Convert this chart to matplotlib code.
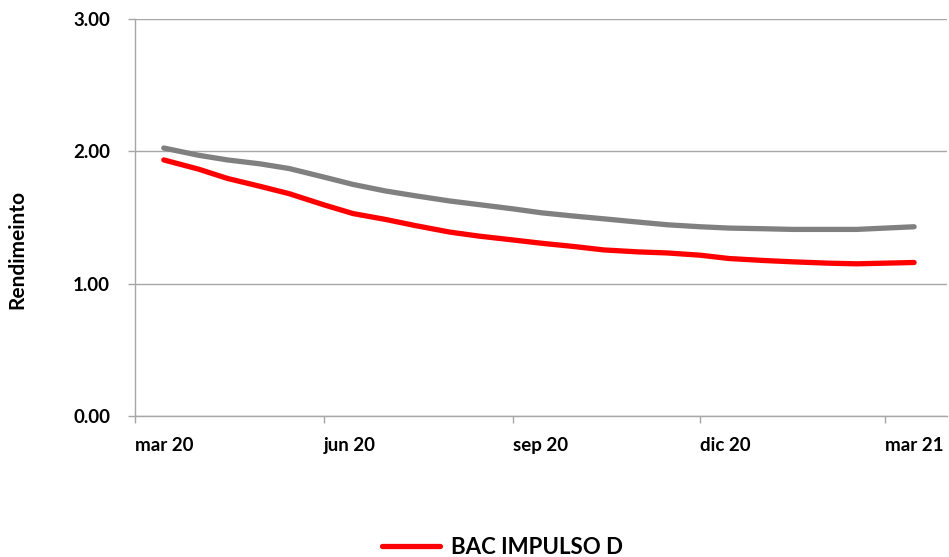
import datetime as dt
import matplotlib
matplotlib.use("Agg")
import matplotlib.pyplot as plt
import matplotlib.dates as mdates

# fechas quincenales de la serie
fechas = ["2020-03-15", "2020-04-01", "2020-04-15", "2020-05-01", "2020-05-15",
          "2020-06-01", "2020-06-15", "2020-07-01", "2020-07-15", "2020-08-01",
          "2020-08-15", "2020-09-01", "2020-09-15", "2020-10-01", "2020-10-15",
          "2020-11-01", "2020-11-15", "2020-12-01", "2020-12-15", "2021-01-01",
          "2021-01-15", "2021-02-01", "2021-02-15", "2021-03-01", "2021-03-15"]

bac_impulso_d = [1.935, 1.865, 1.795, 1.735, 1.68, 1.595, 1.53, 1.485, 1.44, 1.39,
                 1.36, 1.33, 1.305, 1.28, 1.255, 1.24, 1.232, 1.215, 1.19, 1.175,
                 1.165, 1.155, 1.15, 1.155, 1.16]

referencia = [2.025, 1.97, 1.935, 1.905, 1.87, 1.805, 1.75, 1.70, 1.665, 1.625,
              1.598, 1.565, 1.535, 1.51, 1.49, 1.465, 1.445, 1.43, 1.42, 1.415,
              1.41, 1.41, 1.41, 1.42, 1.43]

ticks_x = ["2020-03-01", "2020-06-01", "2020-09-01", "2020-12-01", "2021-03-01"]
etiquetas_x = ["mar 20", "jun 20", "sep 20", "dic 20", "mar 21"]
ticks_y = [0.0, 1.0, 2.0, 3.0]

to_date = lambda s: dt.datetime.strptime(s, "%Y-%m-%d")
x = [to_date(f) for f in fechas]

plt.rcParams['font.family'] = ['Lato', 'DejaVu Sans']

fig = plt.figure(figsize=(9.49, 5.57), dpi=100)
ax = fig.add_axes([135/949, 1 - 416/557, (947 - 135)/949, (416 - 19)/557])

gris = '#a6a6a6'
ax.plot(x, referencia, color='#808080', lw=3.8, solid_capstyle='round',
        solid_joinstyle='round', zorder=3)
ax.plot(x, bac_impulso_d, color='#ff0000', lw=3.8, solid_capstyle='round',
        solid_joinstyle='round', label='BAC IMPULSO D', zorder=4)

ax.set_ylim(0, 3)
ax.set_xlim(to_date("2020-03-01"), to_date("2021-03-31"))
ax.set_yticks(ticks_y)
ax.set_yticklabels([f"{v:.2f}" for v in ticks_y], fontsize=13.5, fontweight='bold')
ax.set_xticks([mdates.date2num(to_date(t)) for t in ticks_x])
ax.set_xticklabels(etiquetas_x, fontsize=13.5, fontweight='bold', ha='left')
ax.grid(axis='y', color=gris, lw=1)
ax.set_axisbelow(True)

for lado in ['top', 'right']:
    ax.spines[lado].set_visible(False)
for lado in ['left', 'bottom']:
    ax.spines[lado].set_color(gris)
    ax.spines[lado].set_linewidth(1)
ax.tick_params(axis='both', color=gris, length=5, width=1)
ax.tick_params(axis='x', pad=10)
ax.tick_params(axis='y', pad=13)

ax.set_ylabel('Rendimeinto', fontsize=15, fontweight='bold')
ax.yaxis.set_label_coords(-108/812, 0.42)

fig.legend(loc='center left', bbox_to_anchor=(382/949, 1 - 547/557), frameon=False,
           prop={'size': 16, 'weight': 'bold'}, handlelength=2.6, handletextpad=0.5,
           borderpad=0, borderaxespad=0)

fig.savefig('out.png', dpi=100)
